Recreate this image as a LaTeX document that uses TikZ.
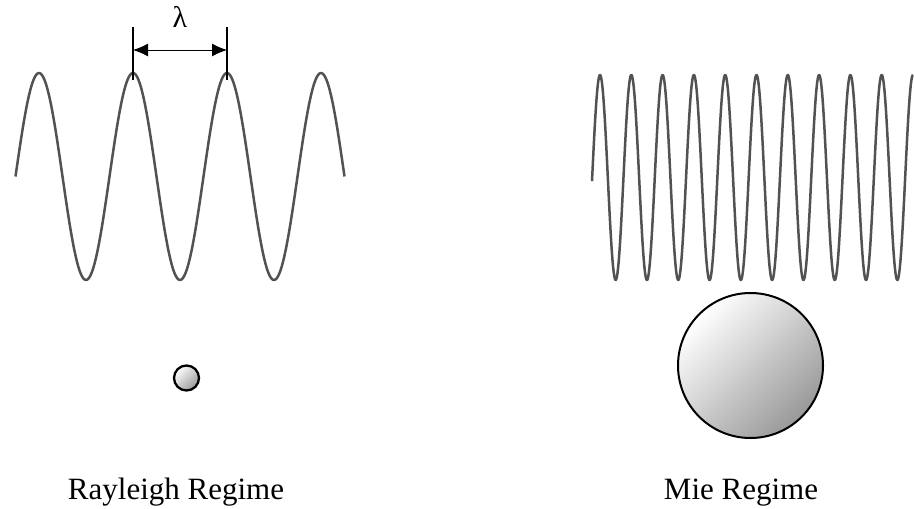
\documentclass[tikz,border=0pt]{standalone}
\usepackage{fontspec}
\setmainfont{Liberation Serif}
\usetikzlibrary{arrows.meta}

\begin{document}
\begin{tikzpicture}[x=1pt, y=-1pt, every node/.style={font=\fontsize{31}{36}\selectfont, inner sep=0pt}, >={Latex[length=15pt,width=13pt]},
	wave/.style={line width=2.5pt, black!68, line join=round},
	marker/.style={line width=2pt, black},
	sphere/.style={draw=black, top color=white, bottom color=black!40, shading angle=45}]
	\useasboundingbox (0,0) rectangle (914,509);
	% long wavelength, small particle
	\draw[wave] plot[domain=15.5:344.5, samples=300] (\x, {176.5-103.5*cos((\x-39)/94*360)});
	\coordinate (topa) at (133,27);
	\coordinate (pka) at (133,80);
	\coordinate (topb) at (227,27);
	\coordinate (pkb) at (227,80);
	\coordinate (arra) at (133,50);
	\coordinate (arrb) at (227,50);
	\draw[marker] (topa) -- (pka);
	\draw[marker] (topb) -- (pkb);
	\draw[<->, line width=1pt] (arra) -- (arrb);
	\node[anchor=base, font=\fontsize{30}{34}\selectfont] (lambda) at (180,27) {λ};
	\shadedraw[sphere, line width=2.3pt] (186.5,378) circle (12.5);
	\node[anchor=base] (rayleigh) at (176,499) {Rayleigh Regime};
	% short wavelength, large particle
	\draw[wave] plot[domain=592:913, samples=900] (\x, {177.5-102.5*cos((\x-600)/31.3*360)});
	\shadedraw[sphere, line width=2pt] (750.5,365.5) circle (72.5);
	\node[anchor=base] (mie) at (741,499) {Mie Regime};
\end{tikzpicture}
\end{document}
